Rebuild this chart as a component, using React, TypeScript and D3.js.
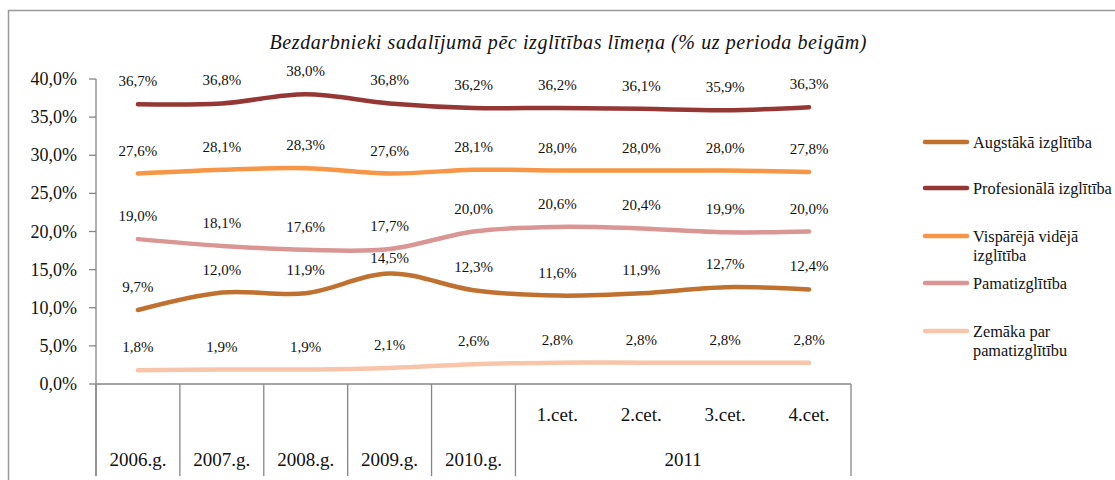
import React from "react";
import * as d3 from "d3";

const categories = ["2006.g.", "2007.g.", "2008.g.", "2009.g.", "2010.g.", "1.cet.", "2.cet.", "3.cet.", "4.cet."];
const groupLabel = "2011";
const groupStart = 5;

const seriesNames = ["Augstākā izglītība", "Profesionālā izglītība", "Vispārējā vidējā izglītība", "Pamatizglītība", "Zemāka par pamatizglītību"];
const augstaka = [9.7, 12.0, 11.9, 14.5, 12.3, 11.6, 11.9, 12.7, 12.4];
const profesionala = [36.7, 36.8, 38.0, 36.8, 36.2, 36.2, 36.1, 35.9, 36.3];
const visparejaVideja = [27.6, 28.1, 28.3, 27.6, 28.1, 28.0, 28.0, 28.0, 27.8];
const pamatizglitiba = [19.0, 18.1, 17.6, 17.7, 20.0, 20.6, 20.4, 19.9, 20.0];
const zemaka = [1.8, 1.9, 1.9, 2.1, 2.6, 2.8, 2.8, 2.8, 2.8];
const yTicks = [0, 5, 10, 15, 20, 25, 30, 35, 40];

const title = "Bezdarbnieki sadalījumā pēc izglītības līmeņa (% uz perioda beigām)";

const colors = ["#C0712F", "#953735", "#F79646", "#D99694", "#F9C5AA"];
// label vertical nudges (layout, px) for labels manually moved in original
const labelNudge: Record<string, number> = { "0-3": 8 };

const legendLines = [["Augstākā izglītība"], ["Profesionālā izglītība"], ["Vispārējā vidējā", "izglītība"], ["Pamatizglītība"], ["Zemāka par", "pamatizglītību"]];
const legendY = [142, 188, 236, 283, 331];

export default function App() {
  const W = 1115, H = 480;
  const x0 = 96, x1 = 851, yTop = 79, yBot = 384;
  const x = d3.scaleBand<string>().domain(categories).range([x0, x1]);
  const y = d3.scaleLinear().domain([0, 40]).range([yBot, yTop]);
  const data = [augstaka, profesionala, visparejaVideja, pamatizglitiba, zemaka];
  const line = d3
    .line<number>()
    .x((_, i) => (x(categories[i]) as number) + x.bandwidth() / 2)
    .y((v) => y(v))
    .curve(d3.curveCatmullRom.alpha(0));
  const fmt = (v: number) => v.toFixed(1).replace(".", ",") + "%";
  const serif = "'Liberation Serif', 'Times New Roman', serif";
  const axisColor = "#868686";
  const bw = x.bandwidth();
  const sepXs = categories.slice(0, groupStart + 1).map((c) => x(c) as number);

  return (
    <svg width={W} height={H} style={{ position: "absolute", left: 0, top: 0 }} fontFamily={serif}>
      <rect x={0} y={0} width={W} height={H} fill="#fff" />
      <rect x={8.5} y={10.5} width={W + 10} height={H + 10} fill="none" stroke="#9a9a9a" strokeWidth={1.5} />
      <text x={568} y={49} textAnchor="middle" fontStyle="italic" fontSize={20} fill="#111" textLength={597} lengthAdjust="spacing">
        {title}
      </text>
      {/* y axis */}
      <line x1={x0} x2={x0} y1={yTop} y2={476} stroke={axisColor} strokeWidth={1.3} />
      {yTicks.map((t) => (
        <g key={t}>
          <line x1={x0 - 7} x2={x0} y1={y(t)} y2={y(t)} stroke={axisColor} strokeWidth={1.3} />
          <text x={77} y={y(t) + 6} textAnchor="end" fontSize={18} fill="#111">
            {fmt(t)}
          </text>
        </g>
      ))}
      {/* x axis */}
      <line x1={x0} x2={x1} y1={yBot} y2={yBot} stroke={axisColor} strokeWidth={1.3} />
      {sepXs.map((sx, i) => (
        <line key={i} x1={sx} x2={sx} y1={yBot} y2={476} stroke={axisColor} strokeWidth={1.3} />
      ))}
      <line x1={x1} x2={x1} y1={yBot} y2={476} stroke={axisColor} strokeWidth={1.3} />
      {categories.map((c, i) => (
        <text key={c} x={(x(c) as number) + bw / 2} y={i < groupStart ? 466 : 421} textAnchor="middle" fontSize={19} fill="#111">
          {c}
        </text>
      ))}
      <text x={((x(categories[groupStart]) as number) + x1) / 2} y={466} textAnchor="middle" fontSize={19} fill="#111">
        {groupLabel}
      </text>
      {/* lines */}
      {data.map((s, k) => (
        <path key={k} d={line(s) || ""} fill="none" stroke={colors[k]} strokeWidth={4.5} strokeLinecap="round" strokeLinejoin="round" />
      ))}
      {/* labels */}
      {data.map((s, k) =>
        s.map((v, i) => (
          <text
            key={k + "-" + i}
            x={(x(categories[i]) as number) + bw / 2}
            y={y(v) - 18 + (labelNudge[k + "-" + i] || 0)}
            textAnchor="middle"
            fontSize={15}
            fill="#111"
          >
            {fmt(v)}
          </text>
        ))
      )}
      {/* legend */}
      {seriesNames.map((n, k) => (
        <g key={n}>
          <line x1={925} x2={967} y1={legendY[k]} y2={legendY[k]} stroke={colors[k]} strokeWidth={4.5} strokeLinecap="round" />
          {legendLines[k].map((ln, j) => (
            <text key={j} x={973} y={legendY[k] + 5.5 + j * 19} fontSize={16.3} fill="#111">
              {ln}
            </text>
          ))}
        </g>
      ))}
    </svg>
  );
}
